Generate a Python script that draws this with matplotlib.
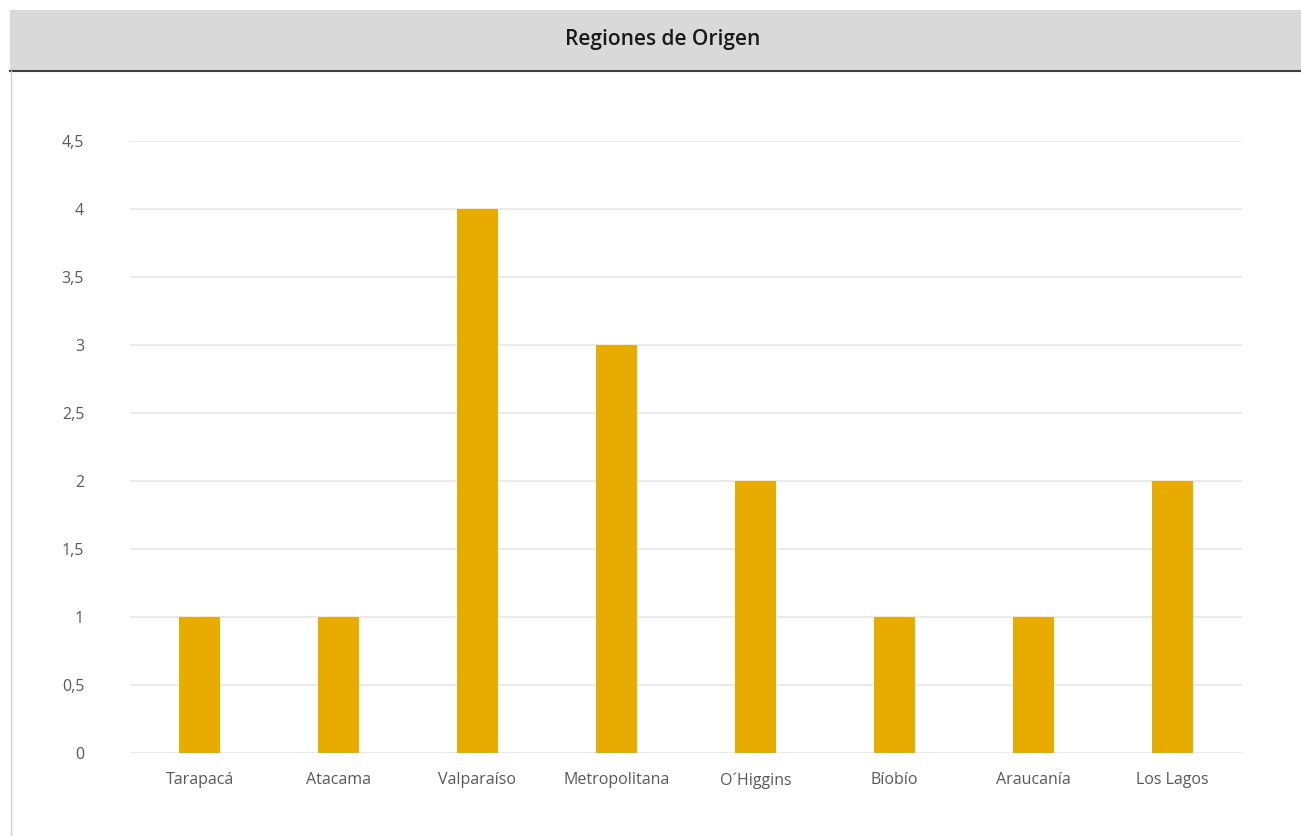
import matplotlib.pyplot as plt
from matplotlib.patches import Rectangle
from matplotlib.lines import Line2D
from matplotlib.ticker import FuncFormatter

# Regions of origin and their counts
regiones = ["Tarapacá", "Atacama", "Valparaíso", "Metropolitana", "O´Higgins",
            "Bíobío", "Araucanía", "Los Lagos"]
cantidad = [1, 1, 4, 3, 2, 1, 1, 2]
ticks_y = [0, 0.5, 1, 1.5, 2, 2.5, 3, 3.5, 4, 4.5]

fig = plt.figure(figsize=(13.01, 8.36), dpi=100)

# header band with the title
fig.patches.append(Rectangle((10 / 1301, 1 - 71 / 836), 1 - 10 / 1301, 61 / 836,
                             transform=fig.transFigure, facecolor="#d9d9d9",
                             edgecolor="none", zorder=0))
fig.lines.append(Line2D([10 / 1301, 1], [1 - 71 / 836, 1 - 71 / 836],
                        transform=fig.transFigure, color="#404040", lw=1.5))
fig.lines.append(Line2D([10.5 / 1301, 10.5 / 1301], [0, 1 - 71 / 836],
                        transform=fig.transFigure, color="#d0d0d0", lw=1))
fig.text(663 / 1301, 1 - 40 / 836, "Regiones de Origen", ha="center", va="center",
         fontsize=15, family="Open Sans", fontweight="semibold", color="#1a1a1a")

ax = fig.add_axes([130 / 1301, 1 - 753 / 836, 1112 / 1301, 612 / 836])
x = range(len(regiones))
ax.bar(x, cantidad, width=0.3, color="#e8ac00", zorder=2)
ax.set_xlim(-0.5, len(regiones) - 0.5)
ax.set_ylim(0, 4.5)
ax.set_yticks(ticks_y)
ax.yaxis.set_major_formatter(FuncFormatter(lambda v, p: f"{v:g}".replace(".", ",")))
ax.set_xticks(list(x))
ax.set_xticklabels(regiones)
ax.grid(axis="y", color="#e8e8e8", lw=1.3, zorder=0)
for s in ax.spines.values():
    s.set_visible(False)
ax.tick_params(length=0, labelsize=11.5, colors="#595959")
ax.tick_params(axis="y", pad=33)
ax.tick_params(axis="x", pad=14)
for lab in ax.get_xticklabels() + ax.get_yticklabels():
    lab.set_family("Open Sans")

fig.savefig("out.png", dpi=100)
